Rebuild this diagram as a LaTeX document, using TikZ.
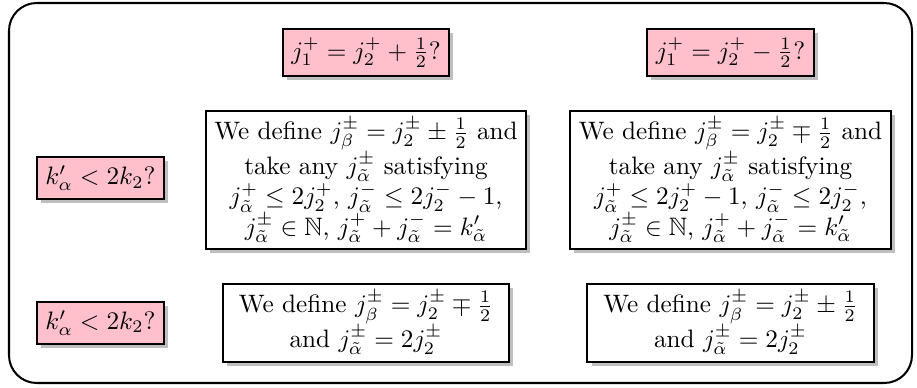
\documentclass[tikz,border=0pt]{standalone}
\usepackage{amsmath}
\usepackage{amssymb}
\usepackage{tikz}
\usepackage{xcolor}
\usetikzlibrary{positioning, shadows}
\definecolor{cPink}{RGB}{255,192,203}
\tikzset{
	query/.style  ={rectangle, draw=black, thick, fill=cPink, align=center,
		drop shadow={shadow xshift=1.6pt, shadow yshift=-1.6pt, opacity=0.5}},
	rulebox/.style={rectangle, draw=black, thick, fill=white, align=center,
		drop shadow={shadow xshift=1.6pt, shadow yshift=-1.6pt, opacity=0.5}},
	frame/.style  ={draw=black, thick, rounded corners=11pt},
}

\begin{document}
\begin{tikzpicture}[x=0.3968pt, y=-0.3968pt]
	\useasboundingbox (0,0) rectangle (917,387);
	\draw[frame] (9,3) rectangle (912,383);
	% middle row
	\node[rulebox, inner ysep=2.5pt] (big1) at (366,180) {We define $j_\beta^\pm = j_2^\pm \pm \frac{1}{2}$ and\\
		take any $j_{\tilde\alpha}^\pm$ satisfying\\
		$j_{\tilde\alpha}^+ \le 2j_2^+$, $j_{\tilde\alpha}^- \le 2j_2^- - 1$,\\
		$j_{\tilde\alpha}^\pm \in \mathbb{N}$, $j_{\tilde\alpha}^+ + j_{\tilde\alpha}^- = k'_{\tilde\alpha}$};
	\node[rulebox, inner ysep=2.5pt] (big2) at (730.5,180) {We define $j_\beta^\pm = j_2^\pm \mp \frac{1}{2}$ and\\
		take any $j_{\tilde\alpha}^\pm$ satisfying\\
		$j_{\tilde\alpha}^+ \le 2j_2^+ - 1$, $j_{\tilde\alpha}^- \le 2j_2^-$,\\
		$j_{\tilde\alpha}^\pm \in \mathbb{N}$, $j_{\tilde\alpha}^+ + j_{\tilde\alpha}^- = k'_{\tilde\alpha}$};
	\node[query] (k1) at (100.5,178) {$k'_\alpha < 2k_2?$};
	% top row
	\node[query, above=13.1pt of big1] (top1) {$j_1^+ = j_2^+ + \frac{1}{2}?$};
	\node[query, above=13.1pt of big2] (top2) {$j_1^+ = j_2^+ - \frac{1}{2}?$};
	% bottom row
	\node[rulebox, inner ysep=2.8pt, minimum width=113.5pt, below=13.1pt of big1] (bot1) {We define $j_\beta^\pm = j_2^\pm \mp \frac{1}{2}$\\
		and $j_{\tilde\alpha}^\pm = 2j_2^\pm$};
	\node[rulebox, inner ysep=2.8pt, minimum width=113.5pt, below=13.1pt of big2] (bot2) {We define $j_\beta^\pm = j_2^\pm \pm \frac{1}{2}$\\
		and $j_{\tilde\alpha}^\pm = 2j_2^\pm$};
	\node[query] (k2) at (k1 |- bot1) {$k'_\alpha < 2k_2?$};
\end{tikzpicture}
\end{document}
